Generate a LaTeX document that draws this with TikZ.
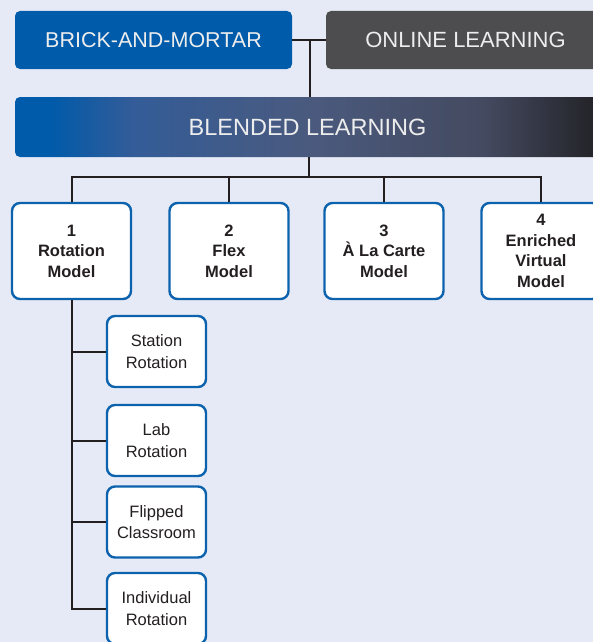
\documentclass[tikz,border=0pt]{standalone}
\usepackage{fontspec}
\setmainfont{Liberation Sans}
\definecolor{bg}{HTML}{E6EAF6}
\definecolor{bluebox}{HTML}{005BAA}
\definecolor{greybox}{HTML}{4D4D4F}
\definecolor{edge}{HTML}{0D62AE}
\definecolor{ink}{HTML}{231F20}
\definecolor{c0}{HTML}{005BAA}
\definecolor{c1}{HTML}{335C98}
\definecolor{c2}{HTML}{4A5A7E}
\definecolor{c3}{HTML}{444A60}
\definecolor{c4}{HTML}{222226}
\pgfdeclarehorizontalshading{blendsh}{100bp}{color(0bp)=(c0); color(28bp)=(c0); color(35bp)=(c1); color(50bp)=(c2); color(65bp)=(c3); color(75bp)=(c4); color(100bp)=(c4)}
\tikzset{
  topbox/.style={rounded corners=5pt, inner sep=0pt, minimum height=58pt, text=white!93!black, font=\fontsize{21.5}{25}\selectfont},
  modelbox/.style={draw=edge, line width=2.4pt, fill=white, rounded corners=8pt, inner sep=0pt, minimum width=119pt, minimum height=96pt, align=center, text=ink, font=\bfseries\fontsize{16.5}{20.5}\selectfont},
  subbox/.style={draw=edge, line width=2.4pt, fill=white, rounded corners=8pt, inner sep=0pt, minimum width=99pt, minimum height=71pt, align=center, text=ink, font=\fontsize{16.5}{21.5}\selectfont},
  conn/.style={draw=ink, line width=2pt}
}
\begin{document}
\begin{tikzpicture}[x=1pt,y=-1pt]
\useasboundingbox (0,0) rectangle (593,642);
\clip (0,0) rectangle (593,642);
\fill[bg] (0,0) rectangle (593,642);
% top row
\node[topbox, fill=bluebox, minimum width=277pt] (brick) at (153.5,40) {BRICK-AND-MORTAR};
\node[topbox, fill=greybox, minimum width=279pt, font=\fontsize{22}{26}\selectfont] (online) at (465.5,40) {ONLINE LEARNING};
\node[topbox, shading=blendsh, minimum width=585pt, minimum height=60pt, font=\fontsize{23.5}{27}\selectfont] (blended) at (307.5,127) {BLENDED LEARNING};
\coordinate (j1) at (310,40);
\coordinate (bus) at (309,177);
% models
\node[modelbox] (m1) at (71.5,251) {1\\Rotation\\Model};
\node[modelbox] (m2) at (229,251) {2\\Flex\\Model};
\node[modelbox] (m3) at (384,251) {3\\À La Carte\\Model};
\node[modelbox] (m4) at (541,251) {4\\Enriched\\Virtual\\Model};
% sub models
\node[subbox] (s1) at (156.5,351.5) {Station\\Rotation};
\node[subbox] (s2) at (156.5,440.5) {Lab\\Rotation};
\node[subbox] (s3) at (156.5,522) {Flipped\\Classroom};
\node[subbox] (s4) at (156.5,608.5) {Individual\\Rotation};
% connectors
\draw[conn] (brick.east) -- (online.west);
\draw[conn] (j1) -- (j1 |- blended.north);
\draw[conn] (bus |- blended.south) -- (bus);
\draw[conn] (m1.north) -- (m1.north |- bus) -- (m4.north |- bus) -- (m4.north);
\draw[conn] (m2.north) -- (m2.north |- bus);
\draw[conn] (m3.north) -- (m3.north |- bus);
\draw[conn] (m1.south) -- (m1.south |- s4.west) -- (s4.west);
\draw[conn] (s1.west) -- (s1.west -| m1.south);
\draw[conn] (s2.west) -- (s2.west -| m1.south);
\draw[conn] (s3.west) -- (s3.west -| m1.south);
\end{tikzpicture}
\end{document}
